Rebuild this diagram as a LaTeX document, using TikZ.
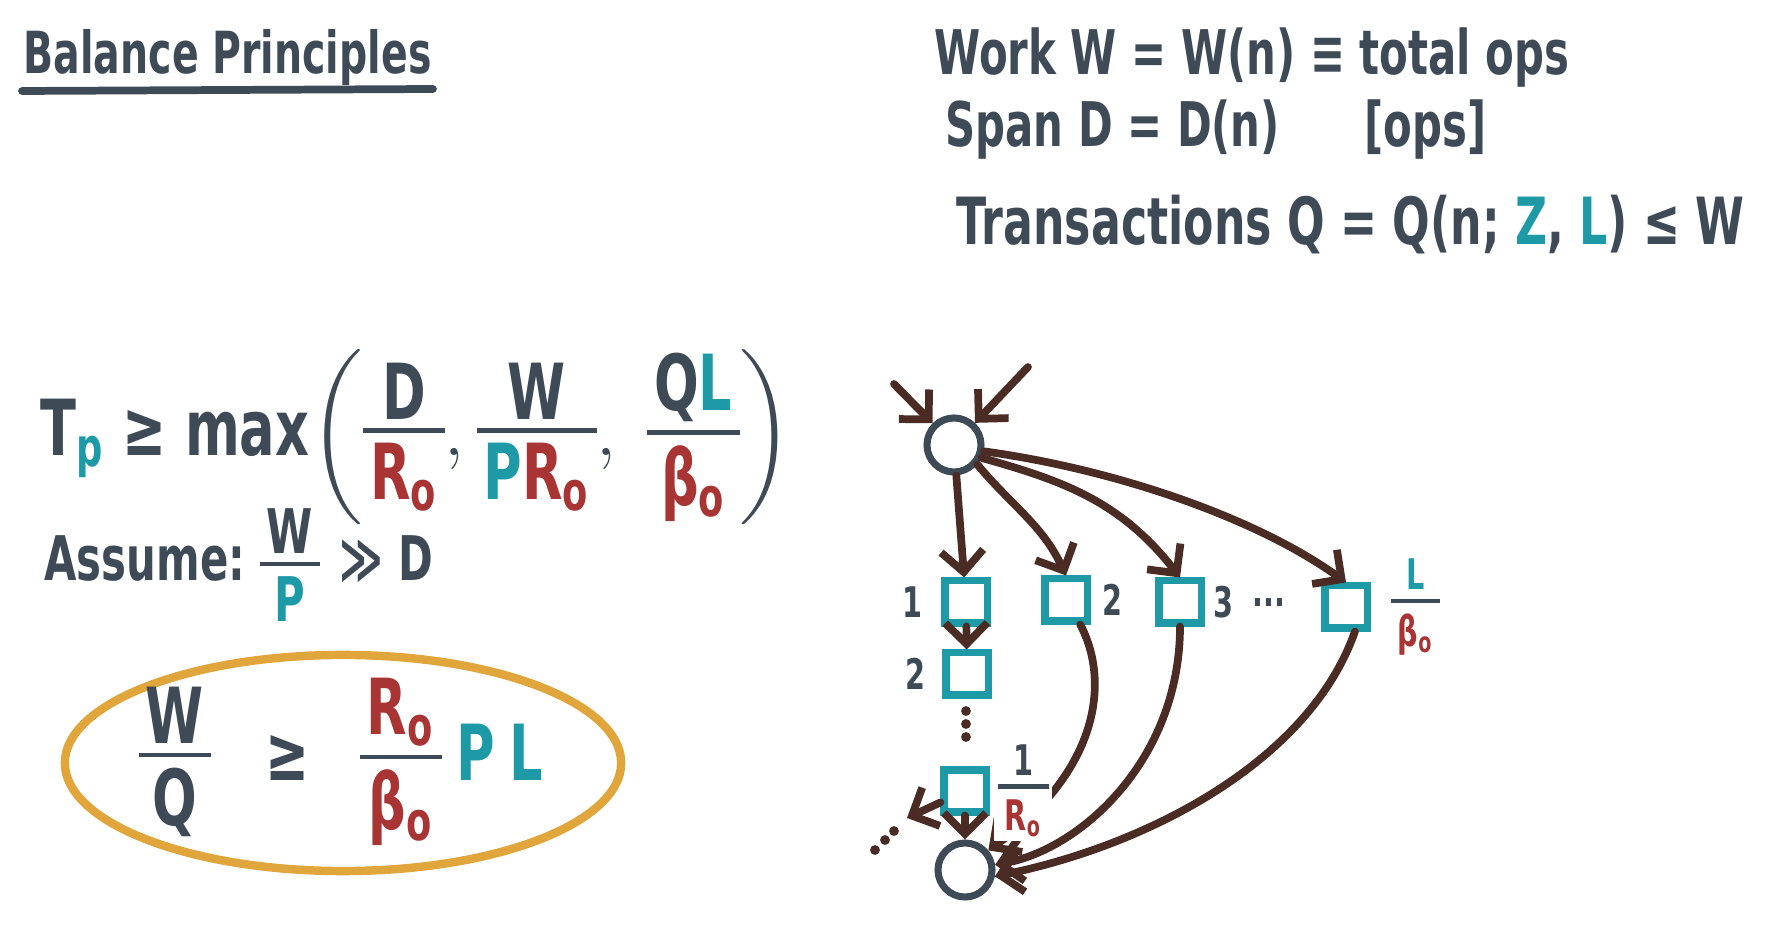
\documentclass[tikz,border=0pt]{standalone}
\usepackage{amsmath}
\usepackage{fontspec}
\setmainfont[FakeStretch=0.68,UprightFont={* Bold}]{DejaVu Sans}
\usetikzlibrary{arrows.meta,positioning}

\definecolor{slate}{HTML}{3E4B57}
\definecolor{tealc}{HTML}{1D9AA6}
\definecolor{brick}{HTML}{A83434}
\definecolor{brownarr}{HTML}{4A2C25}
\definecolor{goldc}{HTML}{E0A63C}

\newcommand{\Ro}{\textcolor{brick}{R\textsubscript{o}}}
\newcommand{\Bo}{\textcolor{brick}{β\textsubscript{o}}}
% hand-style fraction: full-size parts, tight bar
\newcommand{\fr}[2]{\ensuremath{\vcenter{\hbox{\vbox{\offinterlineskip
  \halign{\hfil\kern2pt##\kern2pt\hfil\cr #1\cr
  \noalign{\kern2.5pt\hrule height 1.3pt\kern3pt}#2\cr}}}}}}

\begin{document}
\begin{tikzpicture}[x=0.01cm,y=-0.01cm,
  every node/.style={text=slate},
  circ/.style={circle,draw=slate,line width=2pt,minimum size=0.54cm,inner sep=0pt},
  sqr/.style={rectangle,draw=tealc,line width=2pt,minimum size=0.42cm,inner sep=0pt},
  arr/.style={draw=brownarr,line width=2.2pt,line cap=round,-{Straight Barb[length=6pt,width=12pt]}},
  lbl/.style={font=\fontsize{12}{14}\selectfont,inner sep=1pt},
  defs/.style={anchor=west,font=\fontsize{17.5}{20}\selectfont}]
\useasboundingbox (0,0) rectangle (1781,931);

% title
\node[anchor=west,inner sep=0pt,font=\fontsize{16.5}{20}\selectfont] (title) at (23,58) {Balance Principles};
\draw[slate,line width=2.2pt,line cap=round] (22,91) -- (433,89);

% work, span, transactions
\node[defs] (work) at (922,58) {Work W = W(n) ≡ total ops};
\node[defs] (span) at (933,130) {Span D = D(n)};
\node[defs] (ops) at (1352,130) {[ops]};
\node[defs,font=\fontsize{18.5}{22}\selectfont] (trans) at (944,225) {Transactions Q = Q(n; \textcolor{tealc}{Z}, \textcolor{tealc}{L}) ≤ W};

% lower bound and assumption
\node[anchor=west,font=\fontsize{22}{26}\selectfont] (bound) at (28,437)
  {T\textsubscript{\textcolor{tealc}{p}} ≥ max$\left(\fr{D}{\Ro},\fr{W}{\textcolor{tealc}{P}\Ro},\ \fr{Q\textcolor{tealc}{L}}{\Bo}\right)$};
\node[anchor=west,font=\fontsize{17.5}{21}\selectfont] (assume) at (32,565)
  {Assume:\ \fr{W}{\textcolor{tealc}{P}}\hspace{0.2cm}≫\hspace{0.15cm}D};

% balance
\draw[goldc,line width=2.4pt] (343,763) ellipse [x radius=2.78cm,y radius=1.08cm];
\node[anchor=west,inner sep=0pt,font=\fontsize{22}{26}\selectfont] (balance) at (138,762)
  {\fr{W}{Q}\hspace{0.55cm}≥\hspace{0.5cm}\fr{\Ro}{\Bo}\hspace{0.15cm}\textcolor{tealc}{P\hspace{0.14cm}L}};

% DAG
\node[circ] (src) at (954,445) {};
\coordinate (inA) at (894,384);
\coordinate (inB) at (1028,367);
\node[sqr] (q1) at (966,602) {};
\node[sqr] (q2) at (1066,600) {};
\node[sqr] (q3) at (1180,602) {};
\node[sqr] (qn) at (1346,607) {};
\node[sqr] (c2) at (967,674) {};
\node[sqr] (cn) at (965,791) {};
\node[circ] (snk) at (965,870) {};
\coordinate (out) at (907,818);

\node[lbl,left=0.15cm of q1] (n1) {1};
\node[lbl,right=0.08cm of q2] (n2) {2};
\node[lbl,right=0.05cm of q3] (n3) {3};
\node[lbl] (dots) at (1269,603) {...};
\node[lbl,right=0.16cm of qn] (lat) {\fr{\textcolor{tealc}{L}}{\Bo}};
\node[lbl,left=0.13cm of c2] (m2) {2};

\draw[arr] (inA) -- (src);
\draw[arr] (inB) -- (src);
\draw[arr] (src) -- (q1);
\draw[arr] (src.-40) to[out=-50,in=115] (q2.north);
\draw[arr] (src.-25) .. controls (1060,480) and (1120,500) .. (q3.north);
\draw[arr] (src.-12) .. controls (1120,470) and (1260,520) .. (qn.north);
\draw[arr] (q1) -- (c2);
\draw[arr] (cn) -- (snk);
\draw[arr] (cn) -- (out);
\draw[arr] (q2.-60) .. controls (1110,680) and (1100,770) .. (snk.40);
\draw[arr] (q3.south) .. controls (1180,760) and (1080,850) .. (snk.10);
\draw[arr] (qn.-70) .. controls (1310,760) and (1150,845) .. (snk.-12);

\node[lbl,fill=white,right=0.04cm of cn] (rate) {\fr{1}{\Ro}};

\foreach \y in {711,724,737} \fill[brownarr] (966,\y) circle (1.4pt);
\foreach \p in {(875,850),(885,840),(894,831)} \fill[brownarr] \p circle (1.4pt);
\end{tikzpicture}
\end{document}
